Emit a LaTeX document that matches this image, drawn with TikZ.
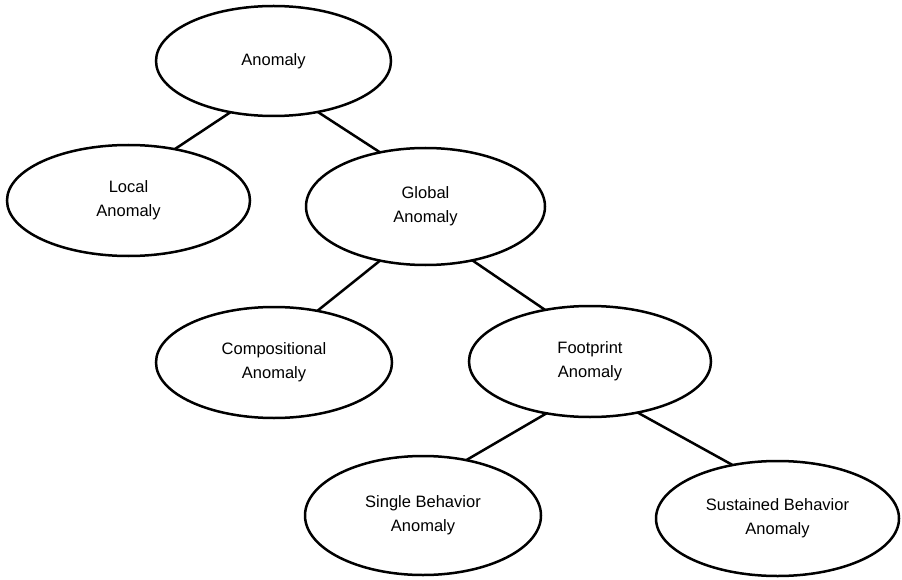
\documentclass[tikz,border=0pt]{standalone}
\usepackage{fontspec}
\setmainfont{Liberation Sans}
\usetikzlibrary{shapes.geometric}
\begin{document}
\begin{tikzpicture}[x=1pt,y=-1pt,
  oval/.style={ellipse,draw=black,line width=2.5pt,inner sep=0pt,outer sep=0pt,
    align=center,font=\fontsize{16.5}{24}\selectfont},
  link/.style={draw=black,line width=2.5pt}]
\useasboundingbox[fill=white] (0,0) rectangle (902,580);
% taxonomy nodes
\node[oval,minimum width=235pt,minimum height=110pt] (anom)   at (273.5,61)  {Anomaly};
\node[oval,minimum width=243pt,minimum height=111pt] (local)  at (128.5,200.5) {Local\\Anomaly};
\node[oval,minimum width=239pt,minimum height=117pt] (global) at (425.5,206.5) {Global\\Anomaly};
\node[oval,minimum width=236pt,minimum height=111pt] (comp)   at (274,362.5) {Compositional\\Anomaly};
\node[oval,minimum width=242pt,minimum height=111pt] (foot)   at (590,361.5) {Footprint\\Anomaly};
\node[oval,minimum width=236pt,minimum height=119pt] (single) at (423,515.5) {Single Behavior\\Anomaly};
\node[oval,minimum width=243pt,minimum height=115pt] (sust)   at (777.5,518.5) {Sustained Behavior\\Anomaly};
% parent-child links
\draw[link] (anom.230) -- (local.48);
\draw[link] (anom.311) -- (global.130);
\draw[link] (global.230) -- (comp.50);
\draw[link] (global.311) -- (foot.131);
\draw[link] (foot.230) -- (single.52);
\draw[link] (foot.313) -- (sust.130);
\end{tikzpicture}
\end{document}
